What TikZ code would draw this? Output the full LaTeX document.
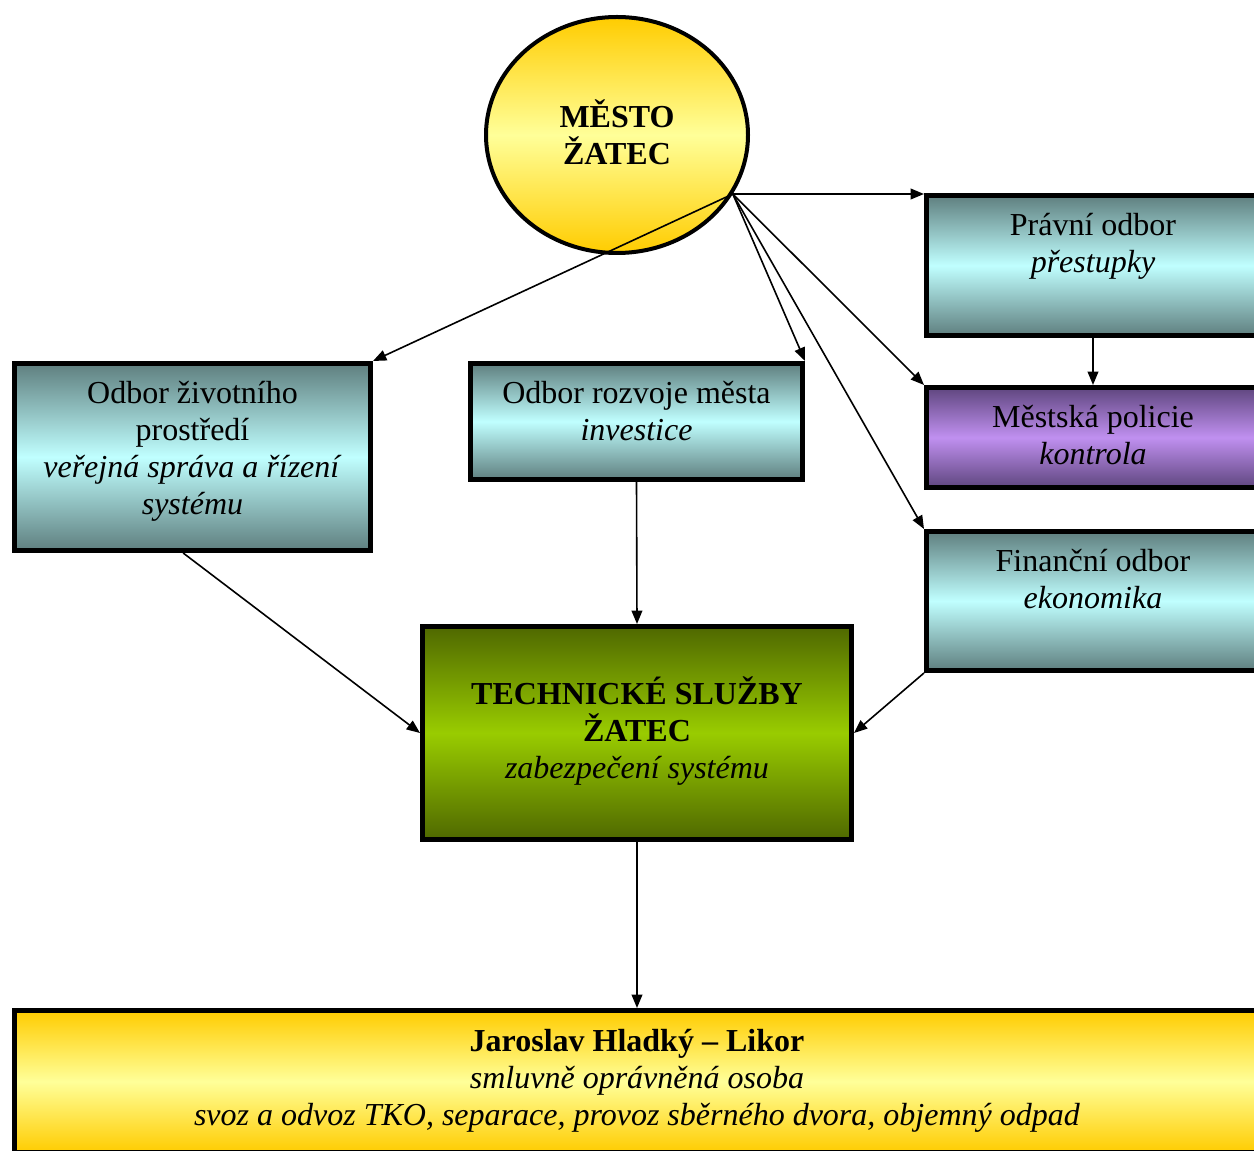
\documentclass[tikz,border=0pt]{standalone}
\usepackage{fontspec}
\setmainfont{Liberation Serif}
\usetikzlibrary{arrows.meta,calc,shapes.geometric}
\definecolor{tealD}{RGB}{95,127,127}
\definecolor{tealL}{RGB}{192,255,255}
\definecolor{purD}{RGB}{95,70,127}
\definecolor{purL}{RGB}{192,144,240}
\definecolor{grnD}{RGB}{79,104,0}
\definecolor{grnL}{RGB}{153,204,0}
\definecolor{yelD}{RGB}{255,204,0}
\definecolor{yelL}{RGB}{255,255,153}
\begin{document}
\begin{tikzpicture}[x=0.75pt,y=-0.75pt,
  box/.style={draw=black, line width=3.75pt, rectangle, inner sep=0pt},
  tealbox/.style={box, top color=tealD, bottom color=tealD, middle color=tealL},
  purbox/.style={box, top color=purD, bottom color=purD, middle color=purL},
  grnbox/.style={box, top color=grnD, bottom color=grnD, middle color=grnL},
  yelbox/.style={box, top color=yelD, bottom color=yelD, middle color=yelL},
  txt/.style={font=\fontsize{24}{27.75}\selectfont, align=center, inner sep=0pt},
  conn/.style={line width=1.2pt, -{Triangle[length=10pt,width=8pt]}}
]
\useasboundingbox (0,0) rectangle (1254,1151);
\clip (0,0) rectangle (1254,1151);

% city ellipse
\node[ellipse, draw=black, line width=3pt, top color=yelD, bottom color=yelD, middle color=yelL,
      minimum width=196.5pt, minimum height=177pt, inner sep=0pt]
      (mesto) at (617,135) {};
\node[txt] (mestot) at (617,132) {\textbf{MĚSTO}\\\textbf{ŽATEC}};

% boxes
\node[tealbox, minimum width=267pt, minimum height=140.25pt] (zp) at (192.5,457) {};
\node[txt, anchor=north] (zpt) at (192.5,377) {\strut Odbor životního\\prostředí\\\textit{veřejná správa a řízení}\\\textit{systému}};

\node[tealbox, minimum width=249pt, minimum height=87pt] (rozvoj) at (636.5,421.5) {};
\node[txt, anchor=north] (rozvojt) at (636.5,377) {\strut Odbor rozvoje města\\\textit{investice}};

\node[tealbox, minimum width=249.75pt, minimum height=105pt] (pravni) at (1093,265.5) {};
\node[txt, anchor=north] (pravnit) at (1093,209) {\strut Právní odbor\\\textit{přestupky}};

\node[purbox, minimum width=249.75pt, minimum height=75pt] (policie) at (1093,437.5) {};
\node[txt, anchor=north] (policiet) at (1093,401) {\strut Městská policie\\\textit{kontrola}};

\node[tealbox, minimum width=249.75pt, minimum height=104.25pt] (financni) at (1093,601) {};
\node[txt, anchor=north] (financnit) at (1093,545) {\strut Finanční odbor\\\textit{ekonomika}};

\node[grnbox, minimum width=321.75pt, minimum height=159.75pt] (tech) at (637,733) {};
\node[txt] (techt) at (637,731)
  {\textbf{TECHNICKÉ SLUŽBY}\\\textbf{ŽATEC}\\\textit{zabezpečení systému}};

\node[yelbox, minimum width=933.75pt, minimum height=106.5pt] (likor) at (637,1081.5) {};
\node[txt, anchor=north] (likort) at (637,1025) {\strut\textbf{Jaroslav Hladký – Likor}\\\textit{smluvně oprávněná osoba}\\\textit{svoz a odvoz TKO, separace, provoz sběrného dvora, objemný odpad}};

% connectors
\coordinate (hub) at (mesto.-27.5);
\draw[conn] (hub) -- (hub -| pravni.west);
\draw[conn] (hub) -- (zp.north east);
\draw[conn] (hub) -- (rozvoj.north east);
\draw[conn] (hub) -- (policie.north west);
\draw[conn] (hub) -- (financni.north west);
\draw[conn] (pravni.south) -- (policie.north);
\draw[conn] (rozvoj.south) -- (tech.north);
\draw[conn] ([xshift=-7pt]zp.south) -- (tech.west);
\draw[conn] (financni.south west) -- (tech.east);
\draw[conn] (tech.south) -- (likor.north);
\end{tikzpicture}
\end{document}
